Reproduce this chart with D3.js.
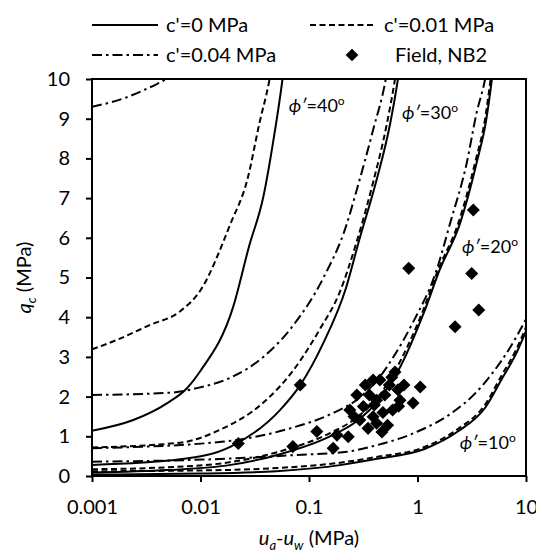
<!DOCTYPE html>
<html>
<head>
<meta charset="utf-8">
<script src="https://cdn.jsdelivr.net/npm/d3@7"></script>
<style>
  body { margin: 0; background: #fff; }
  svg { font-family: Lato, "Open Sans", sans-serif; }
</style>
</head>
<body>
<div id="chart"></div>
<script>
// cone resistance q_c (MPa) vs suction u_a-u_w (MPa)
// each curve: [suction, qc]
// phi' = 40
const phi40c0 = [[0.001,1.14],[0.0024,1.41],[0.0049,1.83],[0.0075,2.21],[0.01,2.65],[0.02,4.26],[0.028,5.78],[0.038,7.04],[0.047,8.46],[0.057,10.0],[0.06,10.5]];
const phi40c001 = [[0.001,3.19],[0.0017,3.43],[0.0034,3.8],[0.0065,4.15],[0.01,4.68],[0.019,6.37],[0.027,7.46],[0.035,8.9],[0.043,9.95],[0.046,10.4]];
const phi40c004 = [[0.001,9.3],[0.002,9.52],[0.003,9.72],[0.004,9.88],[0.005,10.03],[0.006,10.2]];
// phi' = 30
const phi30c0 = [[0.001,0.28],[0.0065,0.42],[0.019,0.74],[0.054,1.66],[0.083,2.29],[0.135,3.34],[0.22,4.75],[0.29,5.94],[0.42,7.46],[0.56,8.88],[0.66,10.0],[0.7,10.5]];
const phi30c001 = [[0.001,0.72],[0.0065,0.84],[0.015,1.16],[0.038,1.85],[0.072,2.67],[0.126,3.7],[0.19,4.6],[0.275,5.9],[0.39,7.4],[0.52,8.85],[0.62,10.0],[0.66,10.5]];
const phi30c004 = [[0.001,2.04],[0.0054,2.1],[0.0095,2.22],[0.019,2.48],[0.038,3.0],[0.07,3.76],[0.135,4.98],[0.22,6.3],[0.275,7.2],[0.39,8.72],[0.51,10.0],[0.54,10.4]];
// phi' = 20
const phi20c0 = [[0.001,0.09],[0.005,0.15],[0.019,0.28],[0.054,0.55],[0.156,1.0],[0.275,1.38],[0.45,1.95],[0.67,2.67],[1.14,4.1],[1.6,5.19],[2.47,6.37],[3.5,7.88],[4.3,8.97],[4.8,9.9],[5.0,10.3]];
const phi20c001 = [[0.001,0.17],[0.005,0.22],[0.019,0.35],[0.054,0.62],[0.156,1.08],[0.275,1.47],[0.45,2.05],[0.65,2.75],[1.1,4.1],[1.55,5.19],[2.4,6.4],[3.4,7.9],[4.2,9.0],[4.7,9.95],[4.9,10.3]];
const phi20c004 = [[0.001,0.7],[0.0156,0.86],[0.067,1.2],[0.156,1.55],[0.3,2.0],[0.45,2.5],[0.6,3.0],[0.9,3.85],[1.5,5.19],[2.0,6.37],[2.84,7.88],[3.5,9.14],[4.2,10.0],[4.4,10.3]];
// phi' = 10
const phi10c0 = [[0.001,0.035],[0.01,0.06],[0.05,0.12],[0.2,0.28],[0.4,0.42],[1.16,0.68],[2.35,1.12],[4.2,1.72],[6.0,2.45],[8.0,3.05],[10,3.65]];
const phi10c001 = [[0.001,0.12],[0.01,0.14],[0.05,0.2],[0.2,0.34],[0.4,0.47],[1.16,0.73],[2.35,1.18],[4.2,1.8],[6.0,2.55],[8.0,3.15],[10,3.75]];
const phi10c004 = [[0.001,0.36],[0.019,0.44],[0.077,0.53],[0.223,0.61],[0.4,0.76],[1.0,1.12],[2.05,1.58],[3.4,2.08],[4.9,2.59],[7.0,3.2],[10,3.95]];

// field data NB2
const fieldSuction = [0.0223,0.083,0.071,0.118,0.167,0.181,0.23,0.276,0.39,0.238,0.294,0.317,0.39,0.42,0.42,0.45,0.5,0.55,0.62,0.66,0.69,0.59,0.53,0.47,0.40,0.36,0.33,0.58,0.75,0.91,1.06,0.67,0.83,3.27,3.16,3.67,2.22,0.26,0.48,0.35];
const fieldQc = [0.82,2.29,0.74,1.12,0.70,1.03,0.99,2.04,2.42,1.66,1.41,1.75,1.49,1.33,1.91,2.42,2.04,2.29,2.62,2.17,1.91,1.66,1.28,1.11,1.79,2.04,2.29,2.49,2.29,1.84,2.24,1.76,5.23,6.7,5.1,4.18,3.76,1.5,1.6,1.2];

const xTicks = [0.001, 0.01, 0.1, 1, 10];
const xTickLabels = ["0.001", "0.01", "0.1", "1", "10"];
const yTicks = [0,1,2,3,4,5,6,7,8,9,10];
const phiLabels = [
  { phi: "40", s: 0.065, q: 9.17 },
  { phi: "30", s: 0.72, q: 8.99 },
  { phi: "20", s: 2.57, q: 5.62 },
  { phi: "10", s: 2.45, q: 0.68 }
];

const width = 536, height = 552;
const margin = { top: 79, right: 10, bottom: 76, left: 92 };

const svg = d3.select("#chart").append("svg")
  .attr("width", width)
  .attr("height", height);

const x = d3.scaleLog().domain([0.001, 10]).range([margin.left, width - margin.right]);
const y = d3.scaleLinear().domain([0, 10]).range([height - margin.bottom, margin.top]);

const styles = {
  solid: null,
  dashed: "6,3.5",
  dashdot: "10,4,2.5,4"
};

const curves = [
  { data: phi40c0, style: "solid" }, { data: phi40c001, style: "dashed" }, { data: phi40c004, style: "dashdot" },
  { data: phi30c0, style: "solid" }, { data: phi30c001, style: "dashed" }, { data: phi30c004, style: "dashdot" },
  { data: phi20c0, style: "solid" }, { data: phi20c001, style: "dashed" }, { data: phi20c004, style: "dashdot" },
  { data: phi10c0, style: "solid" }, { data: phi10c001, style: "dashed" }, { data: phi10c004, style: "dashdot" }
];

svg.append("clipPath").attr("id", "plot-clip")
  .append("rect")
  .attr("x", margin.left).attr("y", margin.top)
  .attr("width", width - margin.left - margin.right)
  .attr("height", height - margin.top - margin.bottom);

const line = d3.line()
  .x(d => x(d[0]))
  .y(d => y(d[1]))
  .curve(d3.curveMonotoneX);

const plot = svg.append("g").attr("clip-path", "url(#plot-clip)");

curves.forEach(c => {
  plot.append("path")
    .attr("d", line(c.data))
    .attr("fill", "none")
    .attr("stroke", "#000")
    .attr("stroke-width", 2)
    .attr("stroke-dasharray", styles[c.style]);
});

// field points as diamonds
const diamond = d3.symbol().type(d3.symbolSquare).size(85);
plot.selectAll(".pt")
  .data(fieldSuction)
  .join("path")
  .attr("class", "pt")
  .attr("d", diamond)
  .attr("transform", (d, i) => `translate(${x(d)},${y(fieldQc[i])}) rotate(45)`)
  .attr("fill", "#000");

// phi' labels
phiLabels.forEach(p => {
  const t = svg.append("text")
    .attr("x", x(p.s))
    .attr("y", y(p.q))
    .attr("font-size", 18)
    .attr("fill", "#000");
  t.append("tspan").attr("font-style", "italic").text("ϕ′");
  t.append("tspan").text("=" + p.phi);
  t.append("tspan").attr("font-size", 12).attr("dy", -7).text("o");
});

// axes
const xAxis = d3.axisBottom(x)
  .tickValues(xTicks)
  .tickFormat((d, i) => xTickLabels[i])
  .tickSize(6)
  .tickSizeOuter(0)
  .tickPadding(18);

const yAxis = d3.axisLeft(y)
  .tickValues(yTicks)
  .tickSize(6)
  .tickSizeOuter(0)
  .tickPadding(16);

const gx = svg.append("g")
  .attr("transform", `translate(0,${height - margin.bottom})`)
  .call(xAxis);
const gy = svg.append("g")
  .attr("transform", `translate(${margin.left},0)`)
  .call(yAxis);

[gx, gy].forEach(g => {
  g.selectAll("text").attr("font-size", 20).attr("fill", "#000").attr("font-family", "Lato, sans-serif");
  g.selectAll("line").attr("stroke", "#000").attr("stroke-width", 2);
  g.select(".domain").remove();
});

// plot frame
svg.append("rect")
  .attr("x", margin.left)
  .attr("y", margin.top)
  .attr("width", width - margin.left - margin.right)
  .attr("height", height - margin.top - margin.bottom)
  .attr("fill", "none")
  .attr("stroke", "#000")
  .attr("stroke-width", 2);

// axis titles
const xt = svg.append("text")
  .attr("x", (margin.left + width - margin.right) / 2)
  .attr("y", 545)
  .attr("text-anchor", "middle")
  .attr("font-size", 20);
xt.append("tspan").attr("font-style", "italic").text("u");
xt.append("tspan").attr("font-style", "italic").attr("font-size", 13).attr("dy", 5).text("a");
xt.append("tspan").attr("dy", -5).text("-");
xt.append("tspan").attr("font-style", "italic").text("u");
xt.append("tspan").attr("font-style", "italic").attr("font-size", 13).attr("dy", 5).text("w");
xt.append("tspan").attr("dy", -5).text(" (MPa)");

const yt = svg.append("text")
  .attr("transform", `translate(31,${(margin.top + height - margin.bottom) / 2}) rotate(-90)`)
  .attr("text-anchor", "middle")
  .attr("font-size", 20);
yt.append("tspan").attr("font-style", "italic").text("q");
yt.append("tspan").attr("font-style", "italic").attr("font-size", 13).attr("dy", 5).text("c");
yt.append("tspan").attr("dy", -5).text(" (MPa)");

// legend
const legendItems = [
  { label: "c'=0 MPa", style: "solid", lx: 92, ly: 25 },
  { label: "c'=0.01 MPa", style: "dashed", lx: 310, ly: 25 },
  { label: "c'=0.04 MPa", style: "dashdot", lx: 92, ly: 55 },
  { label: "Field, NB2", style: "point", lx: 310, ly: 55 }
];

const legend = svg.append("g");
legendItems.forEach(item => {
  if (item.style === "point") {
    legend.append("path")
      .attr("d", d3.symbol().type(d3.symbolSquare).size(80)())
      .attr("transform", `translate(${item.lx + 42},${item.ly}) rotate(45)`)
      .attr("fill", "#000");
    legend.append("text")
      .attr("x", item.lx + 85)
      .attr("y", item.ly + 7)
      .attr("font-size", 20)
      .text(item.label);
  } else {
    legend.append("line")
      .attr("x1", item.lx).attr("x2", item.lx + 66)
      .attr("y1", item.ly).attr("y2", item.ly)
      .attr("stroke", "#000")
      .attr("stroke-width", 2)
      .attr("stroke-dasharray", styles[item.style]);
    legend.append("text")
      .attr("x", item.lx + 74)
      .attr("y", item.ly + 7)
      .attr("font-size", 20)
      .text(item.label);
  }
});
</script>
</body>
</html>
